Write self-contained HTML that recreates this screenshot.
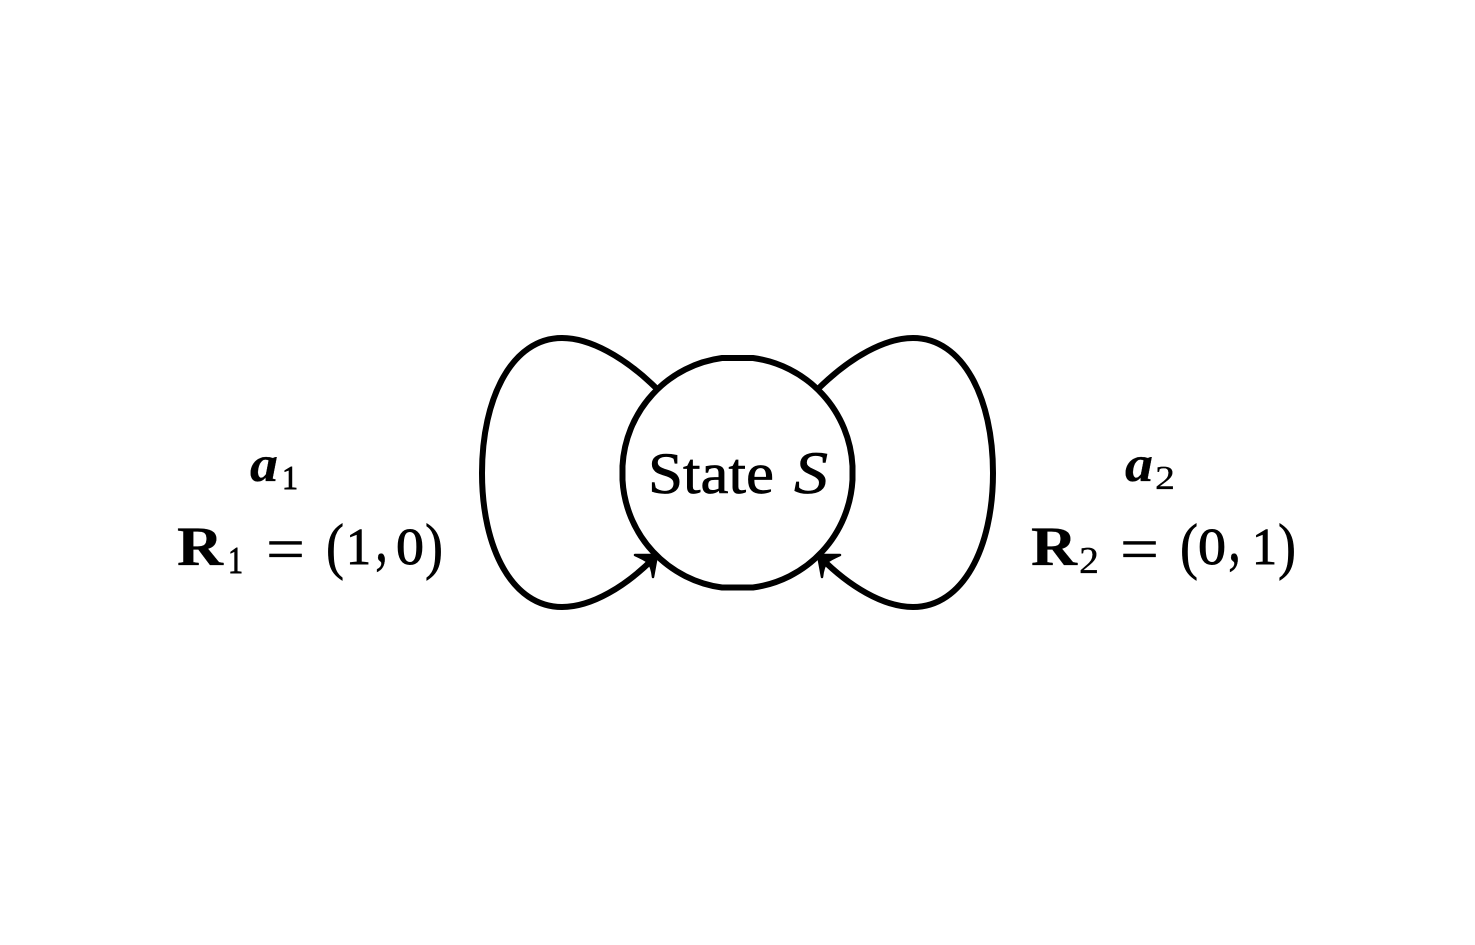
<!DOCTYPE html>
<html lang="en">
<head>
<meta charset="utf-8">
<title>State S with two self-loop actions</title>
<style>
html,body{margin:0;padding:0;background:#fff;width:1475px;height:945px;overflow:hidden}
svg{display:block}
text{font-family:"Liberation Serif",serif;fill:#000;stroke:#000;stroke-width:0.7}
.i{font-style:italic}
.b{font-weight:bold;stroke-width:0.3}
.d{stroke-width:0.9}
.t{stroke-width:0.3}
</style>
</head>
<body>
<svg width="1475" height="945" viewBox="0 0 1475 945" xmlns="http://www.w3.org/2000/svg">
  <rect width="1475" height="945" fill="#fff"/>

  <g fill="none" stroke="#000" stroke-width="6" stroke-linecap="round">
    <path d="M722 358 L753 358 A115 115 0 0 1 852.5 466 L852.5 480 A115 115 0 0 1 753 587.5 L722 587.5 A115 115 0 0 1 622.5 480 L622.5 466 A115 115 0 0 1 722 358 Z"/>
    <path d="M655 387 C624 357 590 338 562 338 C512 338 482 398 482 473 C482 548 512 607 562 607 C592 607 626 586 654 558"/>
    <path d="M820 387 C851 357 885 338 913 338 C963 338 993 398 993 473 C993 548 963 607 913 607 C883 607 849 586 821 558"/>
  </g>
  <path d="M657 555 L635 555 Q644 559 648 562 Q652 567 653 577 Z" fill="#000" stroke="#000" stroke-width="2.5" stroke-linejoin="round"/>
  <path d="M818 555 L840 555 Q831 559 827 562 Q823 567 822 577 Z" fill="#000" stroke="#000" stroke-width="2.5" stroke-linejoin="round"/>

  <g>
    <text x="648" y="493" font-size="58" textLength="126" lengthAdjust="spacingAndGlyphs">State</text>
    <text class="i" x="794" y="493" font-size="60" textLength="34" lengthAdjust="spacingAndGlyphs">S</text>
  </g>

  <g>
    <text class="i b" x="250" y="481" font-size="51" textLength="28" lengthAdjust="spacingAndGlyphs">a</text>
    <text class="d" x="282" y="489" font-size="34" textLength="16" lengthAdjust="spacingAndGlyphs">1</text>
  </g>
  <g>
    <text class="b" x="177" y="565" font-size="56" textLength="46" lengthAdjust="spacingAndGlyphs">R</text>
    <text class="d" x="228" y="573" font-size="38" textLength="15" lengthAdjust="spacingAndGlyphs">1</text>
    <text class="t" x="266" y="570" font-size="62" textLength="39" lengthAdjust="spacingAndGlyphs">=</text>
    <text x="326" y="567" font-size="62" textLength="18" lengthAdjust="spacingAndGlyphs">(</text>
    <text class="d" x="346" y="564" font-size="52" textLength="25" lengthAdjust="spacingAndGlyphs">1</text>
    <text class="t" x="375" y="561" font-size="72" textLength="13" lengthAdjust="spacingAndGlyphs">,</text>
    <text class="d" x="396" y="564" font-size="52" textLength="28" lengthAdjust="spacingAndGlyphs">0</text>
    <text x="425" y="567" font-size="62" textLength="18" lengthAdjust="spacingAndGlyphs">)</text>
  </g>

  <g>
    <text class="i b" x="1125" y="481" font-size="51" textLength="28" lengthAdjust="spacingAndGlyphs">a</text>
    <text class="t" x="1155" y="489" font-size="34" textLength="20" lengthAdjust="spacingAndGlyphs">2</text>
  </g>
  <g>
    <text class="b" x="1031" y="565" font-size="56" textLength="46" lengthAdjust="spacingAndGlyphs">R</text>
    <text class="t" x="1079" y="573" font-size="38" textLength="20" lengthAdjust="spacingAndGlyphs">2</text>
    <text class="t" x="1120" y="570" font-size="62" textLength="39" lengthAdjust="spacingAndGlyphs">=</text>
    <text x="1180" y="567" font-size="62" textLength="18" lengthAdjust="spacingAndGlyphs">(</text>
    <text class="d" x="1198" y="564" font-size="52" textLength="28" lengthAdjust="spacingAndGlyphs">0</text>
    <text class="t" x="1228" y="561" font-size="72" textLength="13" lengthAdjust="spacingAndGlyphs">,</text>
    <text class="d" x="1252" y="564" font-size="52" textLength="25" lengthAdjust="spacingAndGlyphs">1</text>
    <text x="1278" y="567" font-size="62" textLength="18" lengthAdjust="spacingAndGlyphs">)</text>
  </g>
</svg>
</body>
</html>
